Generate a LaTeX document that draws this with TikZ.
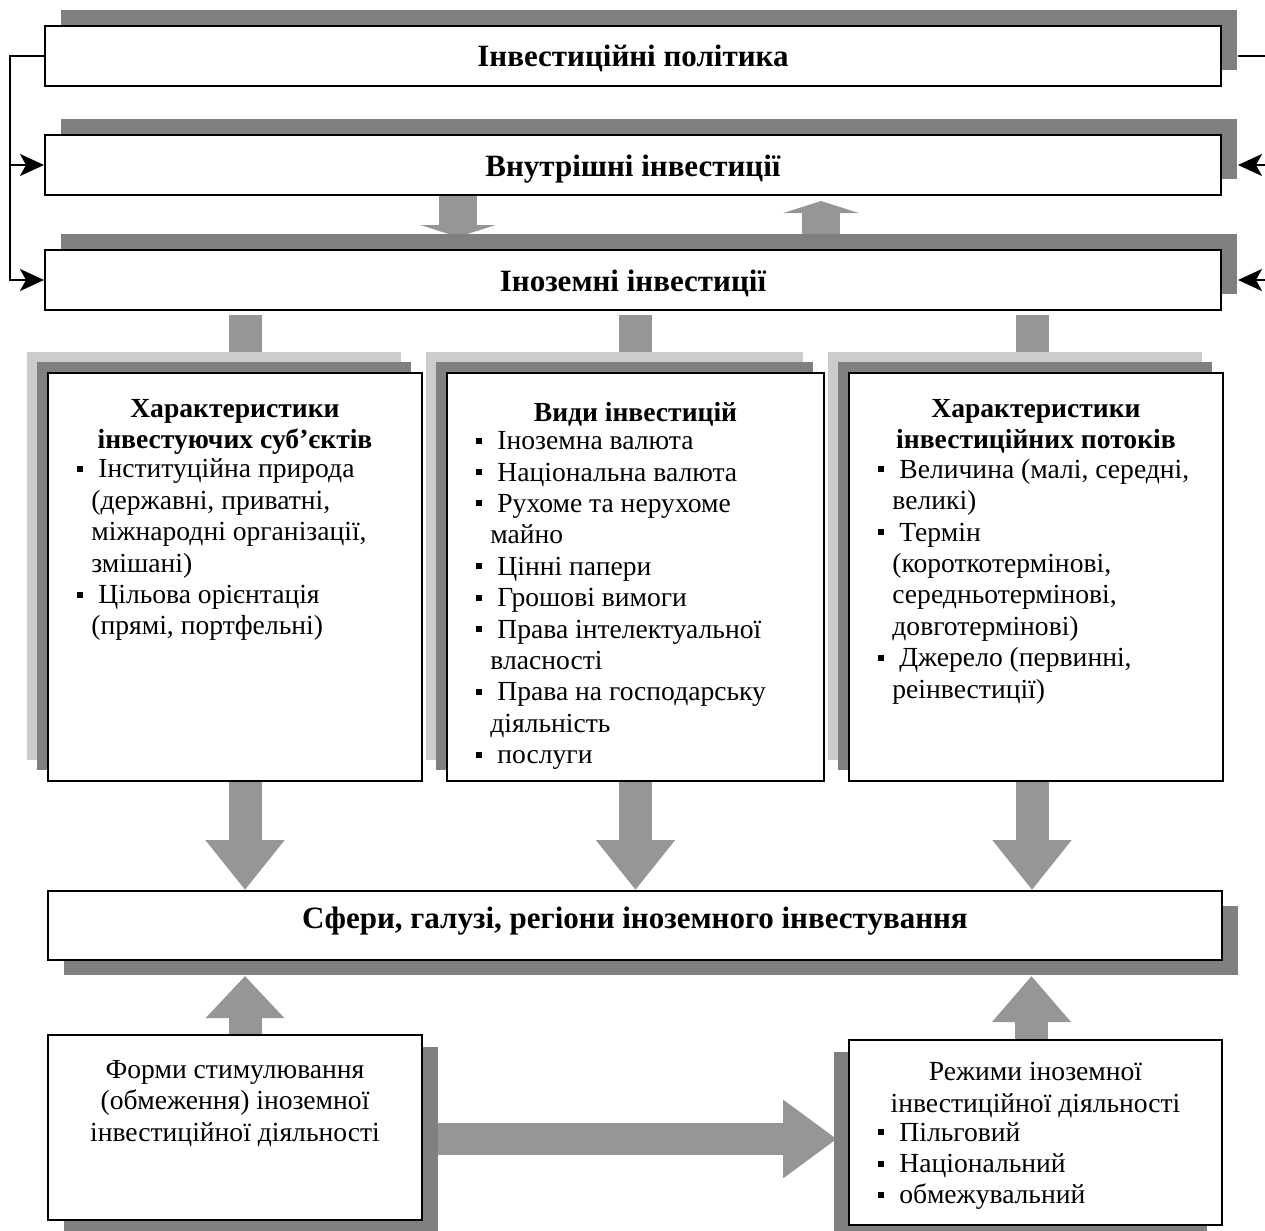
\documentclass[tikz,border=0pt]{standalone}
\usepackage{fontspec}
\setmainfont{Liberation Serif}
\usetikzlibrary{arrows.meta,shadows,calc}
\pgfdeclarelayer{background}
\pgfsetlayers{background,main}
\definecolor{arrgray}{gray}{0.59}
\definecolor{shdgray}{gray}{0.5}
\definecolor{backgray}{gray}{0.8}
\newcommand{\bl}{\makebox[10.5pt][l]{\rule[3pt]{3pt}{3pt}}}
\newcommand{\cl}{\hspace*{7pt}}

\begin{document}
\begin{tikzpicture}[x=0.5pt,y=-0.5pt,
  box/.style={draw,line width=1pt,fill=white,inner sep=0pt},
  bar/.style={box,minimum width=588pt,minimum height=30pt,text height=13pt,text depth=2pt,
    font=\fontsize{15.5}{17}\selectfont\bfseries,
    general shadow={fill=shdgray,shadow xshift=8pt,shadow yshift=8pt}},
  card/.style={box,minimum width=187pt,minimum height=204pt,
    general shadow={fill=backgray,shadow xshift=-10.5pt,shadow yshift=10.5pt},
    general shadow={fill=shdgray,shadow xshift=-5.5pt,shadow yshift=5.5pt}},
  lst/.style={inner sep=0pt,align=left,font=\fontsize{13.8}{15.7}\selectfont,
    execute at begin node=\strut,execute at end node=\strut},
  ctr/.style={lst,align=center},
  ttl/.style={ctr,font=\fontsize{13.8}{15.7}\selectfont\bfseries},
  big/.style={line width=16.5pt,arrgray,-{Triangle[width=38pt,length=25pt]}},
  flat/.style={line width=19pt,arrgray,-{Triangle[width=37.5pt,length=6pt]}},
  stub/.style={line width=16.5pt,arrgray},
  link/.style={line width=1pt,-{Stealth[length=12pt,width=11pt,inset=3pt]}}
]
\useasboundingbox (0,0) rectangle (1265,1231);
\coordinate (redge) at (1265,0);

% top bars
\node[bar] (policy) at (633,55.5) {Інвестиційні політика};
\node[bar] (inner) at (633,165) {Внутрішні інвестиції};
\node[bar] (foreign) at (633,280) {Іноземні інвестиції};

% three cards
\node[card] (subj) at (235,577) {};
\node[card,minimum width=188.5pt] (kinds) at (635.5,577) {};
\node[card] (flows) at (1036,577) {};

\node[ttl,anchor=north] (subjt) at ([yshift=-13.5pt]subj.north) {Характеристики\\інвестуючих суб’єктів};
\node[lst,anchor=north west] (subjl) at ([xshift=15pt]subj.west |- subjt.south)
  {\bl Інституційна природа\\\cl(державні, приватні,\\\cl міжнародні організації,\\\cl змішані)\\
   \bl Цільова орієнтація\\\cl(прямі, портфельні)};

\node[ttl,anchor=north] (kindst) at ([yshift=-13.5pt]kinds.north) {Види інвестицій};
\node[lst,anchor=north west] (kindsl) at ([xshift=15pt]kinds.west |- kindst.south)
  {\bl Іноземна валюта\\\bl Національна валюта\\\bl Рухоме та нерухоме\\\cl майно\\
   \bl Цінні папери\\\bl Грошові вимоги\\\bl Права інтелектуальної\\\cl власності\\
   \bl Права на господарську\\\cl діяльність\\\bl послуги};

\node[ttl,anchor=north] (flowst) at ([yshift=-13.5pt]flows.north) {Характеристики\\інвестиційних потоків};
\node[lst,anchor=north west] (flowsl) at ([xshift=15pt]flows.west |- flowst.south)
  {\bl Величина (малі, середні,\\\cl великі)\\\bl Термін\\\cl(короткотермінові,\\\cl середньотермінові,\\\cl довготермінові)\\
   \bl Джерело (первинні,\\\cl реінвестиції)};

% lower part
\node[box,minimum width=587pt,minimum height=34.5pt,text height=11pt,text depth=8pt,font=\fontsize{15.5}{17}\selectfont\bfseries,
  general shadow={fill=shdgray,shadow xshift=8pt,shadow yshift=-7.5pt}] (spheres) at (635,925.5)
  {Сфери, галузі, регіони іноземного інвестування};

\node[box,minimum width=187pt,minimum height=92.5pt,
  general shadow={fill=shdgray,shadow xshift=8pt,shadow yshift=-6pt}] (forms) at (235,1127.5) {};
\node[ctr,anchor=north] (formst) at ([yshift=-13pt]forms.north) {Форми стимулювання\\(обмеження) іноземної\\інвестиційної діяльності};

\node[box,minimum width=186.5pt,minimum height=92.5pt,
  general shadow={fill=shdgray,shadow xshift=-7.5pt,shadow yshift=-6pt}] (regimes) at (1035.5,1132.5) {};
\node[ctr,anchor=north] (regimest) at ([yshift=-11.5pt]regimes.north) {Режими іноземної\\інвестиційної діяльності};
\node[lst,anchor=north west] (regimesl) at ([xshift=15pt]regimes.west |- regimest.south)
  {\bl Пільговий\\\bl Національний\\\bl обмежувальний};

% block arrows
\begin{pgfonlayer}{background}
\draw[flat] ([xshift=-87.5pt]inner.south) -- ([xshift=-87.5pt,yshift=6pt]inner.south |- foreign.north);
\draw[flat] ([xshift=94pt]foreign.north) -- ([xshift=94pt,yshift=-2.5pt]foreign.north |- inner.south);
\foreach \b/\d in {subj/5pt,kinds/0pt,flows/-2pt}{
  \draw[stub] ([xshift=\d,yshift=-2pt]\b.north |- foreign.south) -- ([xshift=\d]\b.north);
  \draw[big] ([xshift=\d]\b.south) -- ([xshift=\d]\b.south |- spheres.north);
}
\draw[big,-{Triangle[width=38pt,length=21pt]}] ([xshift=5pt]forms.north) -- ([xshift=5pt,yshift=-7.5pt]forms.north |- spheres.south);
\draw[big,-{Triangle[width=38pt,length=23pt]}] ([xshift=-2pt]regimes.north) -- ([xshift=-2pt,yshift=-7.5pt]regimes.north |- spheres.south);
\draw[big,line width=16pt,-{Triangle[width=37.5pt,length=27pt]}] ([yshift=-5.75pt]forms.east) -- ([yshift=-5.75pt,xshift=-5.5pt]forms.east -| regimes.west);
\end{pgfonlayer}

% side links
\draw[link] (policy.west) -- ++(-17pt,0) |- (inner.west);
\draw[link] (policy.west) -- ++(-17pt,0) |- (foreign.west);
\draw[line width=1pt] ([xshift=8pt]policy.east) -- (policy.east -| redge);
\draw[link] (inner.east -| redge) -- ([xshift=8pt]inner.east);
\draw[link] (foreign.east -| redge) -- ([xshift=8pt]foreign.east);
\end{tikzpicture}
\end{document}
